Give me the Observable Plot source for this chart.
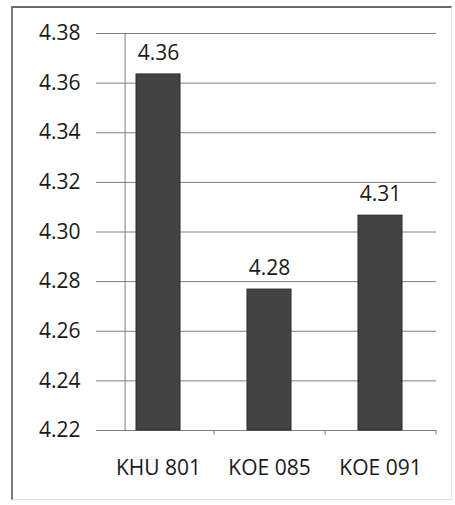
<!DOCTYPE html>
<html>
<head>
<meta charset="utf-8">
<script src="https://cdn.jsdelivr.net/npm/d3@7"></script>
<script src="https://cdn.jsdelivr.net/npm/@observablehq/plot@0.6"></script>
<style>
  html, body { margin: 0; padding: 0; background: #fff; }
  #wrap { position: relative; width: 455px; height: 505px; }
  #frame { position: absolute; left: 11px; top: 6px; width: 441px; height: 494px;
           border-left: 2px solid #7a7a7a; border-top: 2px solid #6a6a6a;
           border-right: 1px solid #e4e4e4; border-bottom: 1px solid #e4e4e4; box-sizing: border-box; }
</style>
</head>
<body>
<div id="wrap"><div id="frame"></div></div>
<script>
const categories = ["KHU 801", "KOE 085", "KOE 091"];
const values = [4.3635, 4.2768, 4.3066];
const labels = ["4.36", "4.28", "4.31"];
const yTicks = [4.22, 4.24, 4.26, 4.28, 4.30, 4.32, 4.34, 4.36, 4.38];
const yMin = 4.22, yMax = 4.38;

const data = categories.map((c, i) => ({cat: c, value: values[i], label: labels[i]}));
const font = "'Open Sans', sans-serif";

const chart = Plot.plot({
  width: 455,
  height: 505,
  marginLeft: 102,
  marginRight: 19,
  marginTop: 33,
  marginBottom: 75,
  style: {fontFamily: font, fontSize: "21px", color: "#1a1a1a", background: "transparent"},
  x: {domain: categories, paddingInner: 0.6, paddingOuter: 0.3},
  y: {domain: [yMin, yMax]},
  marks: [
    Plot.gridY(yTicks, {stroke: "#7e7e7e", strokeOpacity: 1, strokeWidth: 1}),
    Plot.ruleY([yMin], {stroke: "#7e7e7e", strokeWidth: 1}),
    Plot.ruleX([categories[0]], {dx: -0.3 * 111.33, y1: yMin, y2: yMax, stroke: "#7e7e7e"}),
    Plot.ruleX(categories, {x: d => d, dx: 0.5 * 111.33, y1: yMin, y2: yMin - 0.0018, stroke: "#7e7e7e"}),
    Plot.barY(data, {x: "cat", y1: yMin, y2: "value", fill: "#434343", stroke: "#2a2a2a", strokeWidth: 1}),
    Plot.text(data, {x: "cat", y: "value", text: "label", dy: -21, fontSize: 21, fill: "#1a1a1a"}),
    Plot.axisY(yTicks, {tickFormat: d => d.toFixed(2), tickSize: 6, tickPadding: 16, stroke: "#7e7e7e", fill: "#1a1a1a", fontSize: 21, label: null}),
    Plot.axisX({tickSize: 0, tickPadding: 30, fontSize: 21, fill: "#1a1a1a", label: null})
  ]
});
chart.style.position = "absolute";
chart.style.left = "0px";
chart.style.top = "0px";
document.getElementById("wrap").appendChild(chart);
</script>
</body>
</html>
